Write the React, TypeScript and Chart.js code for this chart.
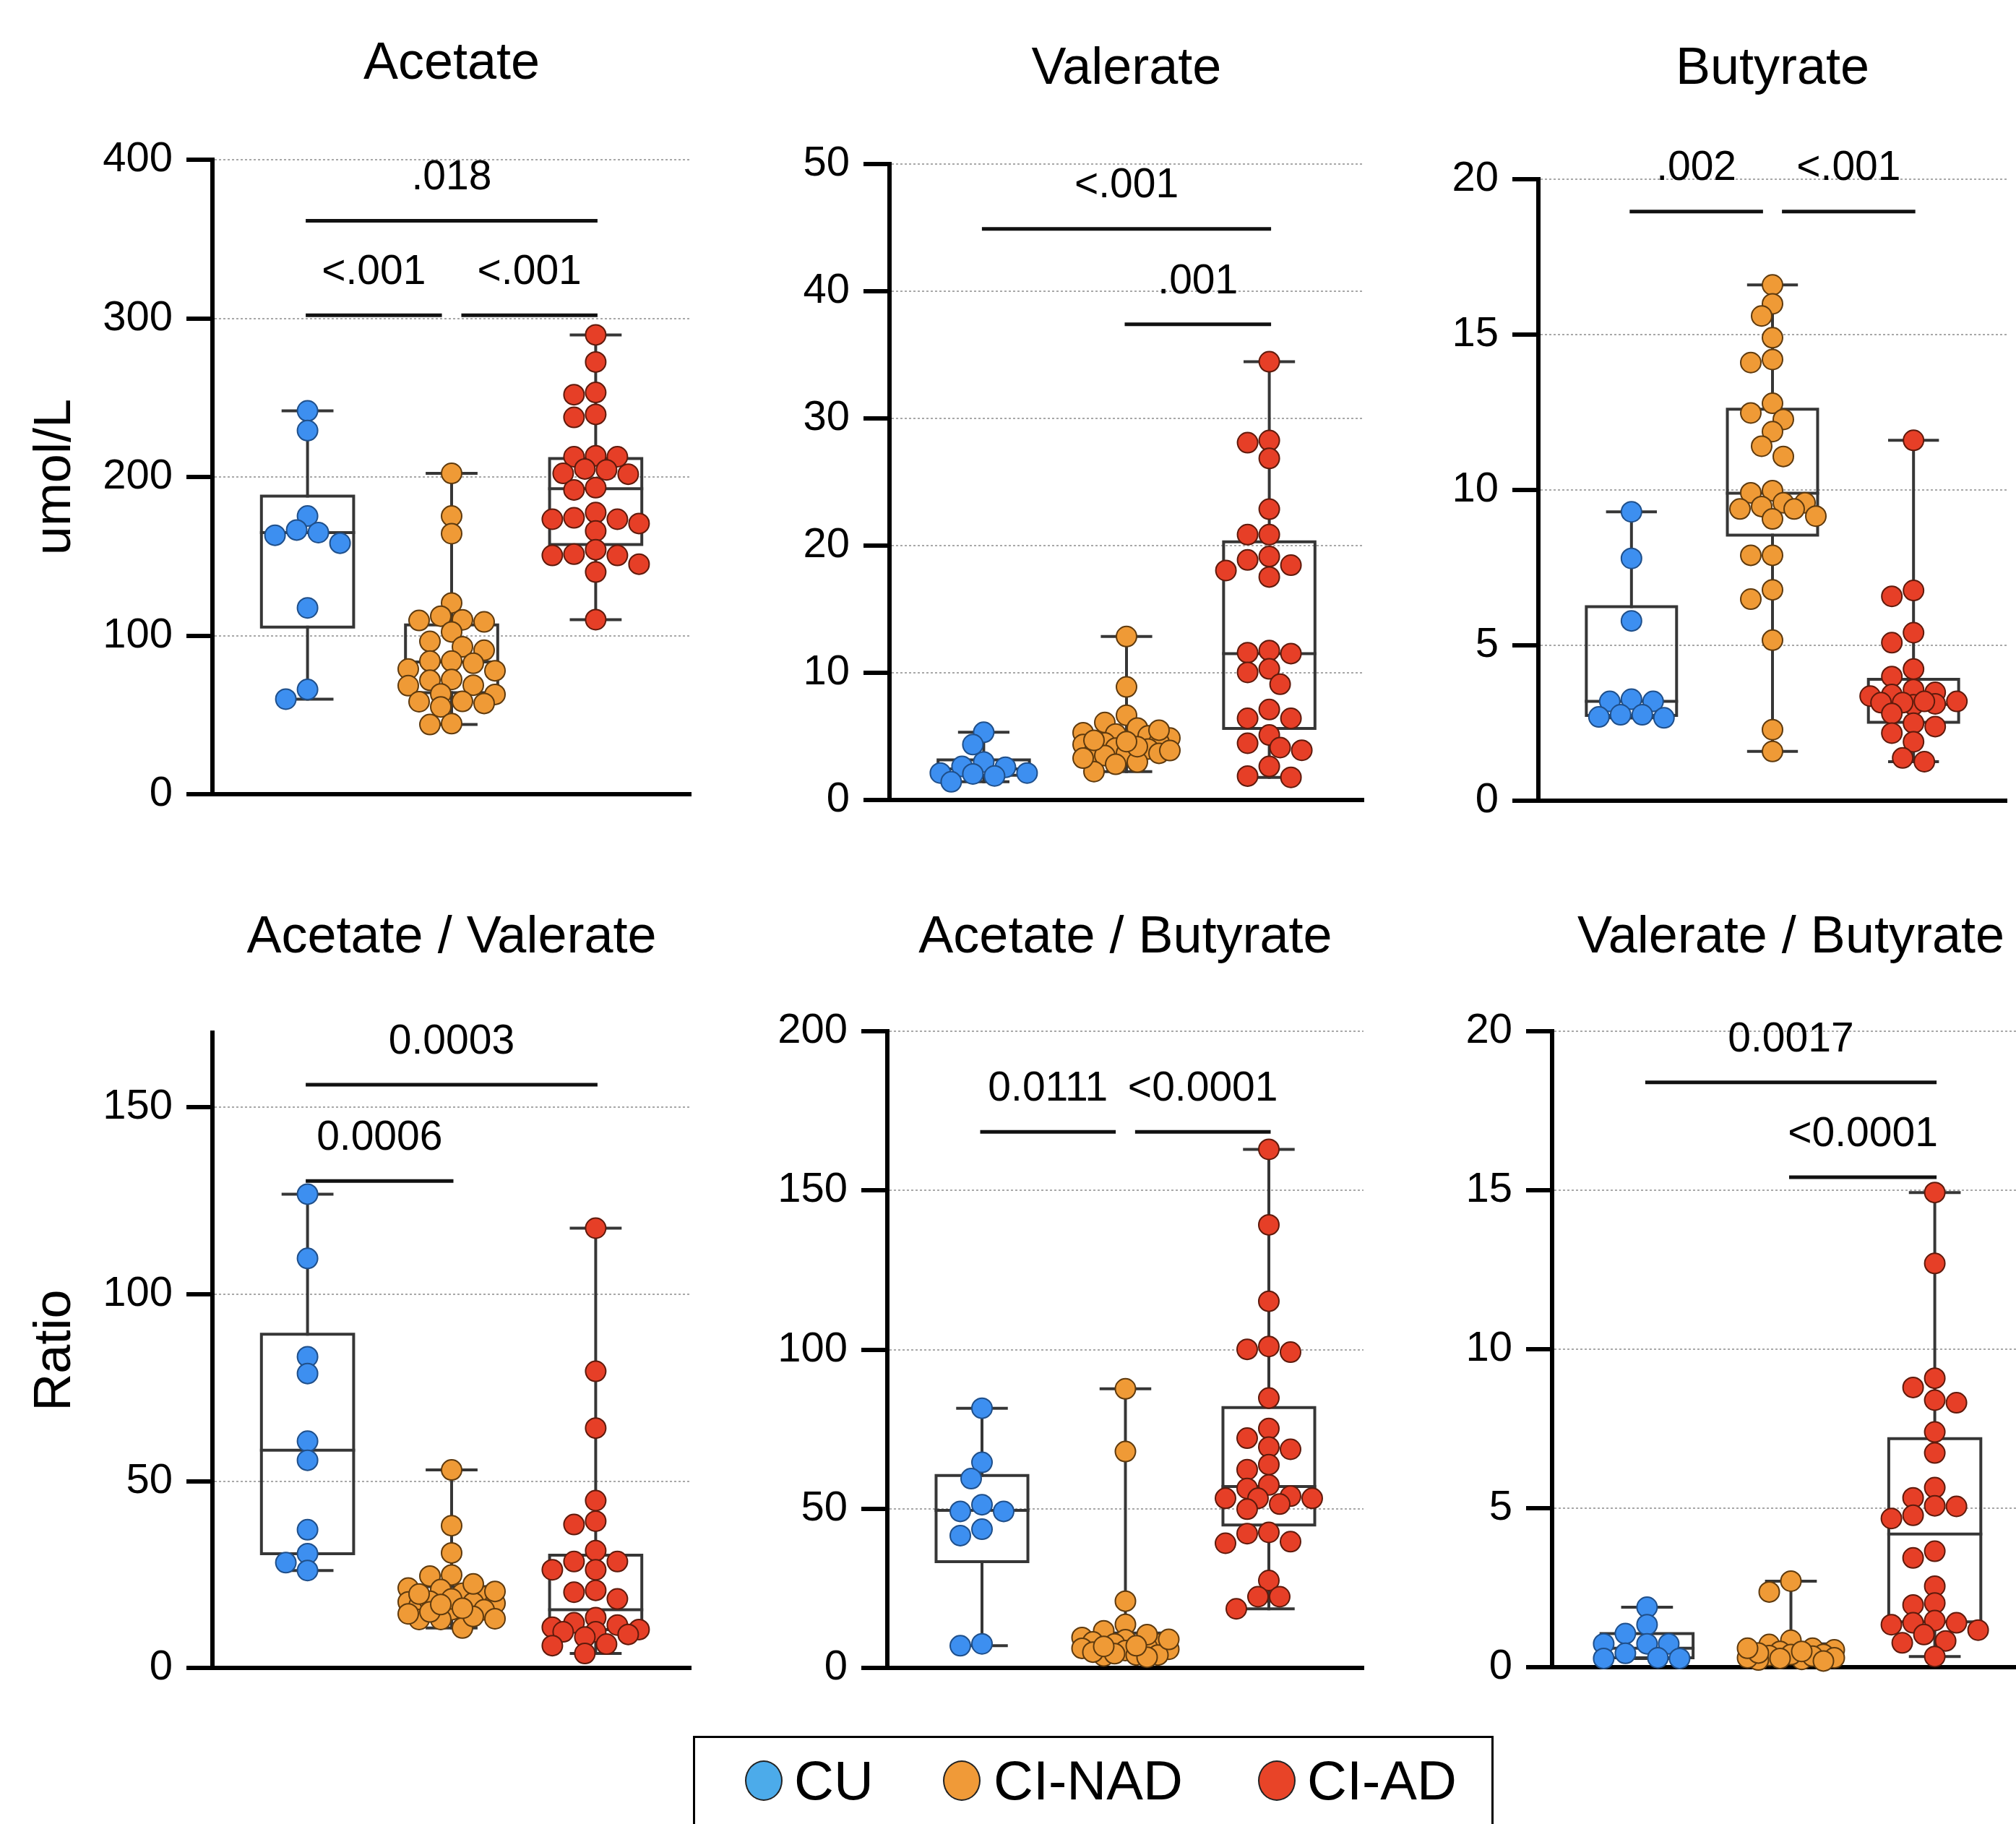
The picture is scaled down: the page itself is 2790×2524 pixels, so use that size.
import React, { useEffect, useRef } from 'react';
import { Chart, registerables } from 'chart.js';

Chart.register(...registerables);

const FONT = '"Liberation Sans", Arial, Helvetica, sans-serif';

// ---------- groups ----------
const groupNames = ['CU', 'CI-NAD', 'CI-AD'];
const pointFill = ['#3d8ff0', '#ef9a36', '#e63f27'];
const pointEdge = ['#1f4f8a', '#5e3a0e', '#5e1a0c'];
const legendFill = ['#4cabea', '#f09a38', '#e84428'];

// ---------- Acetate (umol/L) ----------
const acetateCU = [241.7, 229.3, 175.4, 166.6, 165, 163.3, 158.3, 117.5, 66.1, 60];
const acetateNAD = [202.3, 175.4, 164.3, 120.6, 112.3, 109.6, 110, 108.7, 102.4, 96.4, 93, 90.8, 84, 84, 82.6, 77.9, 79, 71.9, 72.4, 68.8, 68.5, 63.3, 63, 58.6, 57.3, 55.1, 58.4, 44, 44.6];
const acetateAD = [289.6, 272.5, 251.9, 253.3, 237.6, 239.5, 213.4, 212.8, 212.8, 204.5, 201.8, 205.1, 202.3, 193.3, 191.9, 177.6, 173.4, 173.4, 174.3, 170.7, 166, 150.6, 151.4, 154.2, 150.6, 145.1, 140.1, 110.1];
// [min, q1, median, q3, max]
const acetateBox = [[60, 105.4, 165, 188, 241.7], [44, 64.1, 83.4, 106.8, 202.3], [110.1, 157.5, 192.7, 211.7, 289.6]];
const acetateSig = [
  { from: 0, to: 2, level: 361.5, label: '.018' },
  { from: 0, to: 1, level: 302, label: '<.001' },
  { from: 1, to: 2, level: 302, label: '<.001' },
];

// ---------- Valerate ----------
const valerateCU = [5.33, 4.37, 3.0, 2.13, 2.13, 2.65, 2.58, 1.9, 2.06, 1.44];
const valerateNAD = [12.86, 8.9, 6.67, 6.1, 5.67, 5.3, 5.2, 5.05, 4.88, 4.54, 4.5, 4.37, 4.02, 4.09, 3.75, 3.68, 3.5, 3.68, 2.99, 2.82, 2.24, 4.7, 4.2, 3.9, 3.3, 5.5, 4.6];
const valerateAD = [34.46, 28.1, 28.27, 26.86, 22.87, 20.87, 20.87, 18.88, 19.15, 18.47, 18.05, 17.54, 11.59, 11.52, 11.76, 10.32, 10.04, 9.11, 7.12, 6.43, 6.43, 5.12, 3.92, 4.13, 4.47, 2.65, 1.79, 1.89];
const valerateBox = [[1.44, 1.95, 2.45, 3.16, 5.33], [2.24, 3.68, 4.37, 5.12, 12.86], [1.79, 5.64, 11.52, 20.3, 34.46]];
const valerateSig = [
  { from: 0, to: 2, level: 44.9, label: '<.001' },
  { from: 1, to: 2, level: 37.4, label: '.001' },
];

// ---------- Butyrate ----------
const butyrateCU = [9.3, 7.8, 5.79, 3.27, 3.2, 3.2, 2.77, 2.77, 2.7, 2.67];
const butyrateNAD = [16.6, 15.99, 15.6, 14.9, 14.2, 14.1, 12.79, 12.48, 12.27, 11.88, 11.41, 11.08, 9.98, 9.91, 9.59, 9.47, 9.59, 9.39, 9.16, 9.07, 9.39, 7.9, 7.9, 6.79, 6.49, 5.17, 2.29, 1.59];
const butyrateAD = [11.6, 6.77, 6.58, 5.41, 5.09, 4.24, 4.0, 3.42, 3.49, 3.58, 3.37, 3.12, 3.09, 3.2, 3.16, 3.16, 3.2, 2.81, 2.5, 2.39, 2.18, 1.9, 1.26, 1.38];
const butyrateBox = [[2.67, 2.75, 3.2, 6.25, 9.3], [1.59, 8.55, 9.9, 12.6, 16.6], [1.26, 2.53, 3.1, 3.91, 11.6]];
const butyrateSig = [
  { from: 0, to: 1, level: 18.96, label: '.002' },
  { from: 1, to: 2, level: 18.96, label: '<.001' },
];

// ---------- Acetate / Valerate ----------
const acValCU = [126.8, 109.6, 83.3, 78.8, 60.7, 55.6, 37, 30.6, 28.2, 26.1];
const acValNAD = [53, 38.1, 30.8, 24.6, 24.9, 21.4, 21, 20, 19.1, 17.7, 16.7, 17.3, 17.5, 17.9, 15.6, 15.6, 13, 13.2, 13, 10.7, 13.8, 18.5, 16, 14.5, 19.8, 22.5, 15, 17, 20.5];
const acValAD = [117.7, 79.4, 64.2, 44.8, 39.3, 38.4, 31.4, 28.5, 28.5, 26.3, 26.3, 20.8, 20.3, 18.5, 13.5, 11.5, 9.7, 12.1, 10.3, 10.9, 9.7, 8.3, 6.4, 6, 3.9, 9];
const acValBox = [[26.1, 30.6, 58.3, 89.3, 126.8], [10.7, 15.6, 17.7, 21.8, 53], [3.9, 10.3, 15.6, 30.2, 117.7]];
const acValSig = [
  { from: 0, to: 2, level: 156.1, label: '0.0003' },
  { from: 0, to: 1, level: 130.3, label: '0.0006' },
];

// ---------- Acetate / Butyrate ----------
const acButCU = [81.6, 64.6, 59.5, 49.2, 49.2, 51.3, 43.6, 41.6, 7, 7.6];
const acButNAD = [87.7, 68, 21, 13.7, 11.7, 8.9, 9.6, 7.6, 7.6, 8.2, 6.2, 5.9, 5.5, 6.5, 4.1, 4.1, 3.8, 3.4, 10.5, 7, 5, 9, 4.5, 6.8];
const acButAD = [162.9, 139.2, 115.2, 100.1, 99.2, 101, 84.8, 75.2, 72.2, 69.4, 68.7, 63.9, 62.3, 57.5, 56.4, 54, 53.3, 53.3, 53.3, 51.5, 49.9, 42.6, 42.2, 39.2, 39.7, 27.5, 22.4, 22.4, 18.6];
const acButBox = [[7, 33.4, 49.5, 60.5, 81.6], [3.4, 4.1, 6.2, 11, 87.7], [18.6, 44.9, 57, 81.8, 162.9]];
const acButSig = [
  { from: 0, to: 1, level: 168.4, label: '0.0111' },
  { from: 1, to: 2, level: 168.4, label: '<0.0001' },
];

// ---------- Valerate / Butyrate ----------
const valButCU = [1.89, 1.34, 1.06, 0.74, 0.74, 0.74, 0.44, 0.3, 0.28, 0.28];
const valButNAD = [2.71, 2.37, 0.85, 0.72, 0.6, 0.5, 0.55, 0.41, 0.37, 0.23, 0.3, 0.25, 0.35, 0.4, 0.45, 0.3, 0.2, 0.6, 0.5, 0.28];
const valButAD = [14.93, 12.7, 9.09, 8.8, 8.32, 8.4, 7.4, 6.74, 5.65, 5.33, 5.06, 5.08, 4.78, 4.68, 3.65, 3.44, 2.55, 2.02, 1.96, 1.4, 1.4, 1.47, 1.34, 1.17, 1.03, 0.77, 0.83, 0.34];
const valButBox = [[0.28, 0.3, 0.6, 1.06, 1.89], [0.2, 0.3, 0.45, 0.74, 2.71], [0.34, 1.43, 4.19, 7.19, 14.93]];
const valButSig = [
  { from: 0, to: 2, level: 18.39, label: '0.0017' },
  { from: 1, to: 2, level: 15.41, label: '<0.0001' },
];

// ---------- panel specs ----------
type Sig = { from: number; to: number; level: number; label: string };
type Layout = { canvasLeft: number; canvasTop: number; axisX: number; chartRight: number; titleY: number; chartTop: number; chartBottom: number };
type Spec = { title: string; yTitle?: string; values: number[][]; boxes: number[][]; sig: Sig[]; yMax: number; yStep: number; layout: Layout };

const panels: Spec[] = [
  { title: 'Acetate', yTitle: 'umol/L', values: [acetateCU, acetateNAD, acetateAD], boxes: acetateBox, sig: acetateSig, yMax: 400, yStep: 100,
    layout: { canvasLeft: 0, canvasTop: 0, axisX: 294, chartRight: 956, titleY: 89, chartTop: 221, chartBottom: 1103 } },
  { title: 'Valerate', values: [valerateCU, valerateNAD, valerateAD], boxes: valerateBox, sig: valerateSig, yMax: 50, yStep: 10,
    layout: { canvasLeft: 1031, canvasTop: 0, axisX: 1231, chartRight: 1887, titleY: 96, chartTop: 227, chartBottom: 1111 } },
  { title: 'Butyrate', values: [butyrateCU, butyrateNAD, butyrateAD], boxes: butyrateBox, sig: butyrateSig, yMax: 20, yStep: 5,
    layout: { canvasLeft: 1929, canvasTop: 0, axisX: 2129, chartRight: 2777, titleY: 96, chartTop: 248, chartBottom: 1112 } },
  { title: 'Acetate / Valerate', yTitle: 'Ratio', values: [acValCU, acValNAD, acValAD], boxes: acValBox, sig: acValSig, yMax: 170, yStep: 50,
    layout: { canvasLeft: 0, canvasTop: 1180, axisX: 294, chartRight: 956, titleY: 1298, chartTop: 1429, chartBottom: 2312 } },
  { title: 'Acetate / Butyrate', values: [acButCU, acButNAD, acButAD], boxes: acButBox, sig: acButSig, yMax: 200, yStep: 50,
    layout: { canvasLeft: 1028, canvasTop: 1180, axisX: 1228, chartRight: 1887, titleY: 1298, chartTop: 1427, chartBottom: 2312 } },
  { title: 'Valerate / Butyrate', values: [valButCU, valButNAD, valButAD], boxes: valButBox, sig: valButSig, yMax: 20, yStep: 5,
    layout: { canvasLeft: 1948, canvasTop: 1180, axisX: 2148, chartRight: 2809, titleY: 1298, chartTop: 1427, chartBottom: 2311 } },
];

// ---------- style constants ----------
const X_MIN = -0.66;
const X_MAX = 2.66;
const BOX_HALF = 0.32;
const CAP_HALF = 0.17;
const TRIM = 0.08;
const POINT_R = 14;
const TITLE_SIZE = 72;
const TICK_SIZE = 58;
const SIG_SIZE = 57;
const X_AXIS_H = 50;
const RIGHT_PAD = 20;

function seg(points: { x: number; y: number }[], color: string, width: number, order: number) {
  return {
    type: 'line' as const,
    data: points,
    borderColor: color,
    borderWidth: width,
    pointRadius: 0,
    pointHoverRadius: 0,
    fill: false,
    tension: 0,
    borderJoinStyle: 'miter' as const,
    borderCapStyle: 'square' as const,
    order,
    clip: false as any,
  };
}

function bracketSpans(sig: Sig[]) {
  return sig.map((s) => {
    let a = s.from;
    let b = s.to;
    sig.forEach((t) => {
      if (t === s || Math.abs(t.level - s.level) > 1e-9) return;
      if (t.from === s.to) b -= TRIM;
      if (t.to === s.from) a += TRIM;
    });
    return { a, b, level: s.level, label: s.label };
  });
}

function swarm(values: number[], g: number, xs: any, ys: any) {
  const diam = POINT_R * 2 + 2;
  const pxPerX = Math.abs(xs.getPixelForValue(1) - xs.getPixelForValue(0));
  const step = diam * 0.5;
  const minD = diam * 0.75;
  const placed: { px: number; py: number }[] = [];
  const out: { x: number; y: number }[] = new Array(values.length);
  const order = values.map((_, i) => i).sort((p, q) => values[q] - values[p]);
  for (const i of order) {
    const py = ys.getPixelForValue(values[i]);
    let best = 0;
    let bestScore = -Infinity;
    let found = false;
    for (let k = 0; k <= 4 && !found; k++) {
      const cands = k === 0 ? [0] : [-k * step, k * step];
      for (const c of cands) {
        let md = Infinity;
        for (const p of placed) {
          const d = Math.hypot(p.px - c, p.py - py);
          if (d < md) md = d;
        }
        if (md >= minD) {
          best = c;
          found = true;
          break;
        }
        if (md > bestScore) {
          bestScore = md;
          best = c;
        }
      }
    }
    placed.push({ px: best, py });
    out[i] = { x: g + best / pxPerX, y: values[i] };
  }
  return out;
}

function buildConfig(spec: Spec): any {
  const L = spec.layout;
  const lineH = TITLE_SIZE * 1.2;
  const datasets: any[] = [];
  // points first (top-most)
  spec.values.forEach((vals, g) => {
    datasets.push({
      type: 'scatter',
      label: groupNames[g],
      data: vals.map((v) => ({ x: g, y: v })),
      showLine: false,
      pointRadius: POINT_R,
      pointHoverRadius: POINT_R,
      backgroundColor: pointFill[g],
      borderColor: pointEdge[g],
      pointBackgroundColor: pointFill[g],
      pointBorderColor: pointEdge[g],
      pointBorderWidth: 2,
      borderWidth: 2,
      order: 0,
      clip: false,
    });
  });
  // significance brackets
  bracketSpans(spec.sig).forEach((s) => {
    datasets.push(seg([{ x: s.a, y: s.level }, { x: s.b, y: s.level }], '#111111', 5, 1));
  });
  // boxes and whiskers
  spec.boxes.forEach((b, g) => {
    const [mn, q1, med, q3, mx] = b;
    const col = '#363636';
    datasets.push(seg([{ x: g, y: mn }, { x: g, y: q1 }], col, 4, 2));
    datasets.push(seg([{ x: g, y: q3 }, { x: g, y: mx }], col, 4, 2));
    datasets.push(seg([{ x: g - CAP_HALF, y: mn }, { x: g + CAP_HALF, y: mn }], col, 4, 2));
    datasets.push(seg([{ x: g - CAP_HALF, y: mx }, { x: g + CAP_HALF, y: mx }], col, 4, 2));
    datasets.push(seg([
      { x: g - BOX_HALF, y: q1 }, { x: g + BOX_HALF, y: q1 }, { x: g + BOX_HALF, y: q3 },
      { x: g - BOX_HALF, y: q3 }, { x: g - BOX_HALF, y: q1 },
    ], col, 4, 2));
    datasets.push(seg([{ x: g - BOX_HALF, y: med }, { x: g + BOX_HALF, y: med }], col, 4, 2));
  });

  const spans = bracketSpans(spec.sig);
  const sigPlugin = {
    id: 'sigLabels',
    afterDatasetsDraw(chart: any) {
      const { ctx } = chart;
      const xs = chart.scales.x;
      const ys = chart.scales.y;
      ctx.save();
      ctx.fillStyle = '#000';
      ctx.font = `${SIG_SIZE}px ${FONT}`;
      ctx.textAlign = 'center';
      ctx.textBaseline = 'middle';
      spans.forEach((s) => {
        const cx = xs.getPixelForValue((s.a + s.b) / 2);
        const cy = ys.getPixelForValue(s.level) - 59;
        ctx.fillText(s.label, cx, cy);
      });
      ctx.restore();
    },
  };

  return {
    type: 'scatter',
    data: { datasets },
    plugins: [sigPlugin],
    options: {
      animation: false,
      responsive: false,
      devicePixelRatio: 1,
      events: [],
      layout: { padding: { left: 0, right: RIGHT_PAD, top: 0, bottom: 0 } },
      plugins: {
        legend: { display: false },
        tooltip: { enabled: false },
        title: {
          display: true,
          text: spec.title,
          fullSize: false,
          color: '#000',
          font: { family: FONT, size: TITLE_SIZE, weight: 'normal', lineHeight: 1.2 },
          padding: {
            top: L.titleY - L.canvasTop - lineH / 2,
            bottom: L.chartTop - L.titleY - lineH / 2,
          },
        },
      },
      scales: {
        x: {
          type: 'linear',
          min: X_MIN,
          max: X_MAX,
          ticks: { display: false },
          grid: { display: false, drawTicks: false },
          border: { display: true, color: '#000', width: 6 },
          afterFit: (s: any) => { s.height = X_AXIS_H; },
        },
        y: {
          type: 'linear',
          min: 0,
          max: spec.yMax,
          ticks: {
            stepSize: spec.yStep,
            includeBounds: false,
            color: '#000',
            padding: 19,
            font: { family: FONT, size: TICK_SIZE },
          },
          grid: {
            color: '#a8a8a8',
            lineWidth: 2,
            drawTicks: true,
            tickLength: 36,
            tickWidth: 6,
            tickColor: '#000',
          },
          border: { display: true, color: '#000', width: 6, dash: [3, 3] },
          title: {
            display: !!spec.yTitle,
            text: spec.yTitle || '',
            color: '#000',
            font: { family: FONT, size: 72, lineHeight: 1.2 },
            padding: { top: 34, bottom: 0 },
          },
          afterFit: (s: any) => { s.width = L.axisX - L.canvasLeft; },
        },
      },
    },
  };
}

function Panel({ spec }: { spec: Spec }) {
  const ref = useRef<HTMLCanvasElement>(null);
  const L = spec.layout;
  const width = L.chartRight + RIGHT_PAD - L.canvasLeft;
  const height = L.chartBottom + X_AXIS_H - L.canvasTop;
  useEffect(() => {
    if (!ref.current) return;
    const chart = new Chart(ref.current, buildConfig(spec));
    const xs = chart.scales.x;
    const ys = chart.scales.y;
    spec.values.forEach((vals, g) => {
      (chart.data.datasets[g] as any).data = swarm(vals, g, xs, ys);
    });
    chart.update('none');
    return () => chart.destroy();
  }, [spec]);
  return (
    <canvas
      ref={ref}
      width={width}
      height={height}
      style={{ position: 'absolute', left: L.canvasLeft, top: L.canvasTop, width, height }}
    />
  );
}

function Legend() {
  const circleX = [1057, 1331, 1767];
  const textX = [1099, 1375, 1809];
  const cy = 2464;
  return (
    <div>
      <div
        style={{
          position: 'absolute', left: 959, top: 2402, width: 1108, height: 200,
          border: '3px solid #000', boxSizing: 'border-box',
        }}
      />
      {groupNames.map((n, i) => (
        <React.Fragment key={n}>
          <div
            style={{
              position: 'absolute', left: circleX[i] - 26, top: cy - 28, width: 52, height: 56,
              borderRadius: '50%', background: legendFill[i], border: '2px solid #222', boxSizing: 'border-box',
            }}
          />
          <div
            style={{
              position: 'absolute', left: textX[i], top: cy - 38, height: 76, lineHeight: '76px',
              fontFamily: FONT, fontSize: 76, color: '#000', whiteSpace: 'nowrap',
            }}
          >
            {n}
          </div>
        </React.Fragment>
      ))}
    </div>
  );
}

export default function App() {
  return (
    <div
      style={{
        position: 'fixed', left: 0, top: 0, width: 2790, height: 2524,
        overflow: 'hidden', background: '#fff',
      }}
    >
      {panels.map((p) => (
        <Panel key={p.title} spec={p} />
      ))}
      <Legend />
    </div>
  );
}
